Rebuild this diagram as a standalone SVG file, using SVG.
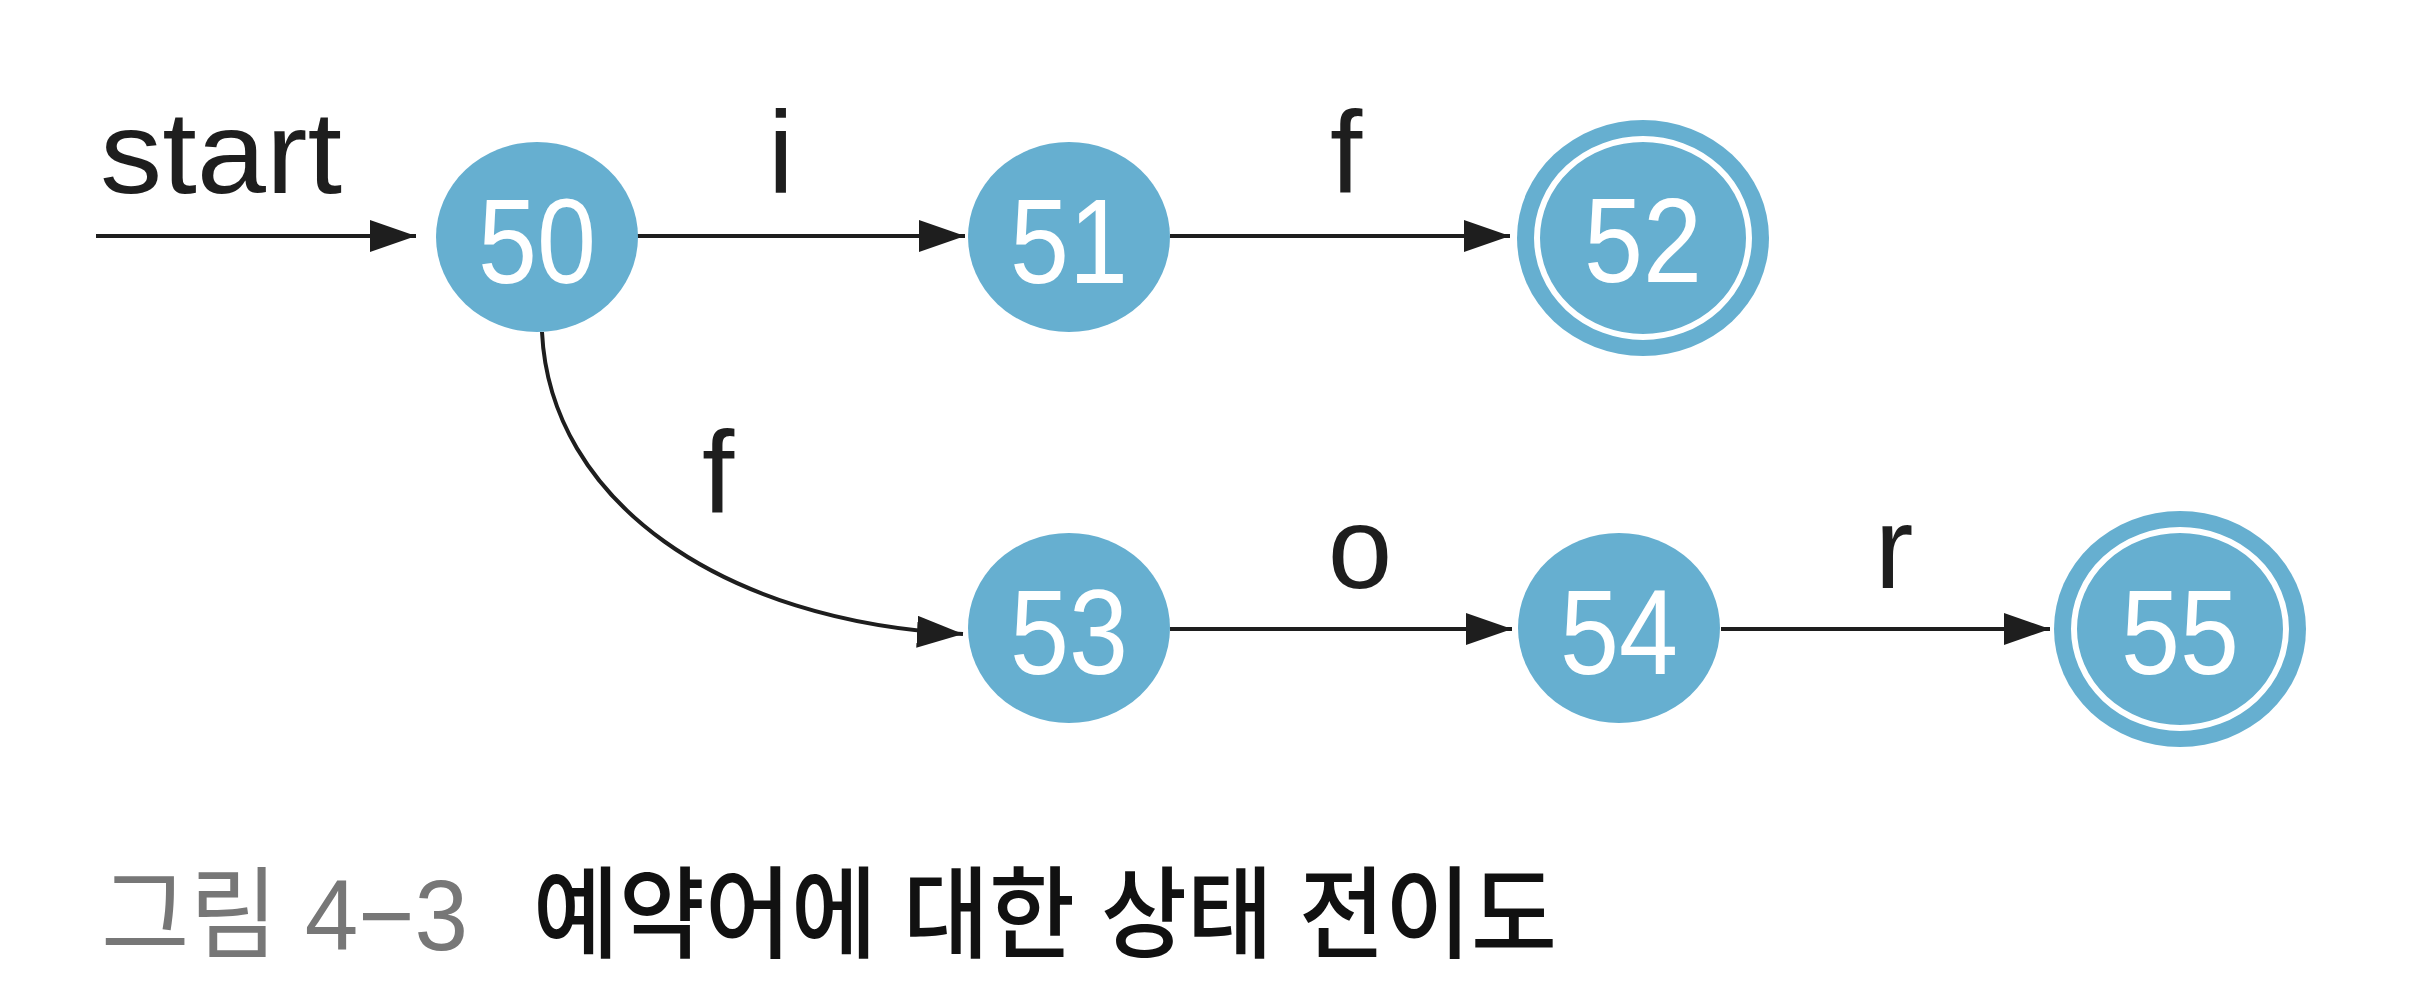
<svg xmlns="http://www.w3.org/2000/svg" width="2416" height="1000" viewBox="0 0 2416 1000">
<style>
.node{fill:#66afd0}
.ring{fill:none;stroke:#fff;stroke-width:6}
.num{font-family:"Liberation Sans",Arial,sans-serif;font-size:120px;fill:#fff;text-anchor:middle}
.lbl{font-family:"Liberation Sans",Arial,sans-serif;font-size:116px;fill:#1e1e1e;text-anchor:middle}
.edge{fill:none;stroke:#1e1e1e;stroke-width:4;marker-end:url(#ah)}
.cap{font-family:"Liberation Sans","Noto Sans CJK KR",sans-serif;font-size:100px}
</style>
<defs>
<marker id="ah" markerUnits="userSpaceOnUse" markerWidth="50" markerHeight="36" refX="46" refY="16" orient="auto">
<path d="M0,0 L46,16 L0,32 Z" fill="#1e1e1e"/>
</marker>
</defs>
<rect width="2416" height="1000" fill="#fff"/>
<text class="lbl" x="100" y="193" textLength="242" lengthAdjust="spacingAndGlyphs" style="text-anchor:start">start</text>
<g id="connectors">
<line class="edge" x1="96" y1="236" x2="416" y2="236"/>
<line class="edge" x1="636" y1="236" x2="965" y2="236"/>
<line class="edge" x1="1170" y1="236" x2="1510" y2="236"/>
<path class="edge" d="M542,332 C550,500 720,622 963,634"/>
<line class="edge" x1="1170" y1="629" x2="1512" y2="629"/>
<line class="edge" x1="1721" y1="629" x2="2050" y2="629"/>
<text class="lbl" x="781" y="193">i</text>
<text class="lbl" x="1346" y="193">f</text>
<text class="lbl" x="718" y="513">f</text>
<text class="lbl" x="1360" y="588">o</text>
<text class="lbl" x="1894" y="588">r</text>
</g>
<g id="n50"><ellipse class="node" cx="537" cy="237" rx="101" ry="95"/><text class="num" x="537" y="283" textLength="118" lengthAdjust="spacingAndGlyphs">50</text></g>
<g id="n51"><ellipse class="node" cx="1069" cy="237" rx="101" ry="95"/><text class="num" x="1069" y="283" textLength="118" lengthAdjust="spacingAndGlyphs">51</text></g>
<g id="n52"><ellipse class="node" cx="1643" cy="238" rx="126" ry="118"/><ellipse class="ring" cx="1643" cy="238" rx="106" ry="99"/><text class="num" x="1643" y="282" textLength="118" lengthAdjust="spacingAndGlyphs">52</text></g>
<g id="n53"><ellipse class="node" cx="1069" cy="628" rx="101" ry="95"/><text class="num" x="1069" y="674" textLength="118" lengthAdjust="spacingAndGlyphs">53</text></g>
<g id="n54"><ellipse class="node" cx="1619" cy="628" rx="101" ry="95"/><text class="num" x="1619" y="674" textLength="118" lengthAdjust="spacingAndGlyphs">54</text></g>
<g id="n55"><ellipse class="node" cx="2180" cy="629" rx="126" ry="118"/><ellipse class="ring" cx="2180" cy="629" rx="106" ry="99"/><text class="num" x="2180" y="674" textLength="118" lengthAdjust="spacingAndGlyphs">55</text></g>
<text class="cap" x="101" y="950" fill="#777" textLength="367" lengthAdjust="spacingAndGlyphs">그림 4−3</text>
<text class="cap" x="533" y="950" fill="#111" font-weight="500" textLength="1024" lengthAdjust="spacingAndGlyphs">예약어에 대한 상태 전이도</text>
</svg>
